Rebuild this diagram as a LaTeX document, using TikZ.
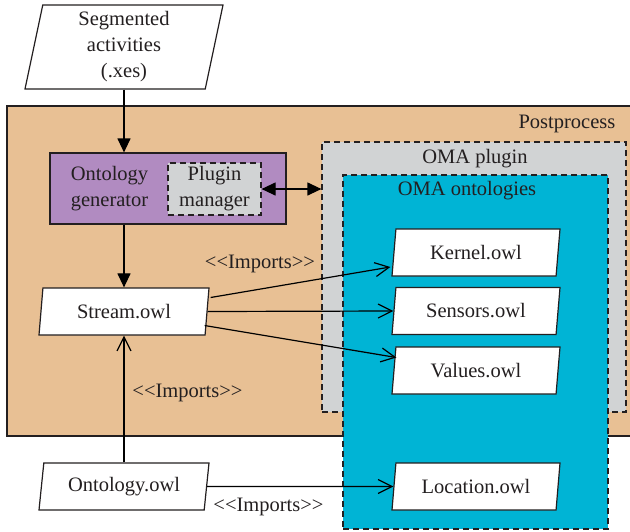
\documentclass[tikz,border=0pt]{standalone}
\usepackage{fontspec}
\setmainfont{Liberation Serif}
\usetikzlibrary{shapes.geometric,arrows.meta}
\definecolor{postfill}{RGB}{232,192,148}
\definecolor{genfill}{RGB}{177,139,193}
\definecolor{greyfill}{RGB}{209,211,212}
\definecolor{ontofill}{RGB}{0,180,213}
\definecolor{ink}{RGB}{35,31,32}
% stereotype brackets written as two separate angle characters
\newcommand{\stereo}[1]{<\kern0pt<#1>\kern0pt>}
\tikzset{
  every node/.style={font=\fontsize{20.5}{26}\selectfont, text=ink},
  every path/.style={line width=1.2pt},
  region/.style={draw=ink, rectangle, inner sep=0pt},
  dashedregion/.style={region, dash pattern=on 6pt off 4pt},
  datafile/.style={trapezium, draw=ink, fill=white, trapezium stretches body,
    trapezium left angle=78, trapezium right angle=102,
    minimum width=170, minimum height=47, inner sep=2pt, align=center},
  filltip/.style={-{Triangle[length=14pt,width=13pt]}},
  bothtip/.style={{Triangle[length=14pt,width=13pt]}-{Triangle[length=14pt,width=13pt]}},
  opentip/.style={-{Straight Barb[length=14pt,width=14pt]}},
  tag/.style={inner sep=0pt, align=center}
}
\begin{document}
\begin{tikzpicture}[x=1pt,y=-1pt]
\useasboundingbox (0,0) rectangle (630,531);

% containers
\node[region, fill=postfill, minimum width=640, minimum height=330] (post) at (327,271) {};
\node[dashedregion, fill=greyfill, minimum width=304, minimum height=270] (plugin) at (474,277) {};
\node[dashedregion, fill=ontofill, minimum width=265, minimum height=354] (onto) at (475.5,352) {};

\node[tag] (postlbl) at (567,124) {Postprocess};
\node[tag] (pluginlbl) at (475,159) {OMA plugin};
\node[tag] (ontolbl) at (467,191) {OMA ontologies};

% ontology generator with its plugin manager
\node[region, fill=genfill, minimum width=236, minimum height=71] (gen) at (168,188.5) {};
\node[tag] (genlbl) at (109.5,189) {Ontology\\generator};
\node[dashedregion, fill=greyfill, minimum width=93, minimum height=52, align=center] (pm) at (214.5,189) {Plugin\\manager};

% files
\node[datafile, minimum width=198, minimum height=84, trapezium left angle=76.6, trapezium right angle=103.4] (seg) at (124,47) {Segmented\\activities\\(.xes)};
\node[datafile] (stream) at (124,311.5) {Stream.owl};
\node[datafile] (ont) at (124,486.5) {Ontology.owl};
\node[datafile, minimum width=168] (kernel) at (476,252.5) {Kernel.owl};
\node[datafile, minimum width=168] (sensors) at (476,311) {Sensors.owl};
\node[datafile, minimum width=168] (values) at (476,370.5) {Values.owl};
\node[datafile, minimum width=168] (loc) at (476,486.5) {Location.owl};

% flow
\draw[filltip] (seg |- seg.south) -- (seg |- gen.north);
\draw[filltip] (stream |- gen.south) -- (stream |- stream.north);
\draw[bothtip] (pm.east) -- (pm.east -| plugin.west);

% imports
\draw[opentip] (ont |- ont.north) -- (stream |- stream.south);
\draw[opentip] ([shift={(3pt,14pt)}]stream.east) -- ([shift={(-3pt,-14.5pt)}]kernel.west);
\draw[opentip] (stream.east) -- (sensors.west);
\draw[opentip] ([shift={(-3pt,-14pt)}]stream.east) -- ([shift={(3pt,13pt)}]values.west);
\draw[opentip] (ont.east) -- (loc.west);

\node[tag] (imp1) at (260,264) {\stereo{Imports}};
\node[tag] (imp2) at (187.5,393) {\stereo{Imports}};
\node[tag] (imp3) at (268.5,507) {\stereo{Imports}};
\end{tikzpicture}
\end{document}
